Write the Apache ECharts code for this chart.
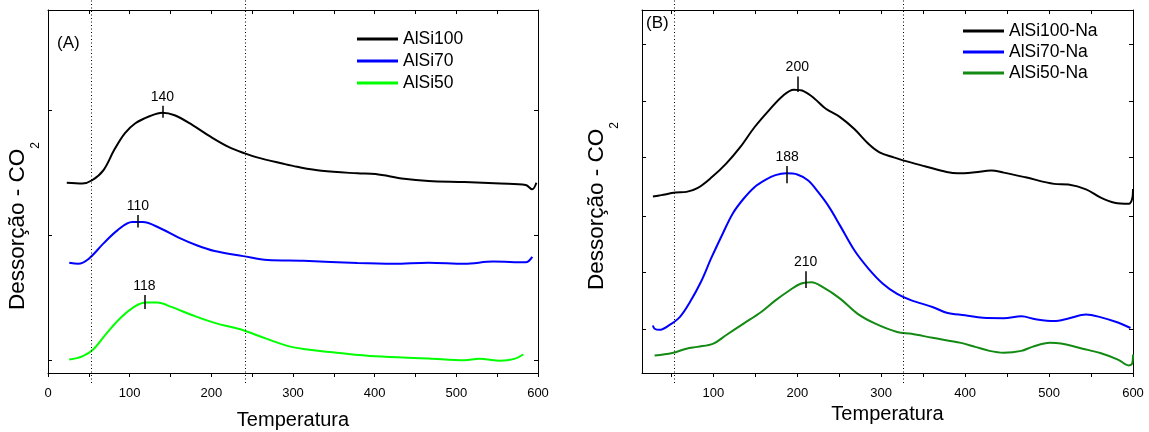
<!DOCTYPE html>
<html><head><meta charset="utf-8">
<script src="https://cdn.jsdelivr.net/npm/echarts@6/dist/echarts.min.js"></script>
<style>html,body{margin:0;padding:0;background:#fff}#c{width:1149px;height:432px}</style>
</head><body><div id="c"></div>
<script>
// ---------- Panel A (temperature, signal in arbitrary units) ----------
const a100_T = [23,42,54,68,81,94,107,125,140,155,177,199,221,241,256,287,305,335,379,401,436,466,510,554,585,593,598];
const a100_S = [52.4,52.2,53.1,55.9,61.4,66,68.8,70.8,71.7,71,68.3,65.1,62.3,60.5,59.4,57.7,56.8,55.7,55,54.8,53.5,52.9,52.6,52.2,51.8,50.6,52.4];
const a70_T = [26,37,50,68,85,103,116,138,160,182,204,239,269,313,379,423,466,510,545,585,593];
const a70_S = [30.4,30.1,31.5,35.7,39.3,41.6,41.6,39.8,37.3,35.2,33.6,32.2,31.1,30.9,30.3,30.1,30.4,30.1,30.7,30.5,32];
const a50_T = [26,42,55,72,90,107,120,134,151,177,204,239,256,291,313,357,401,466,510,528,554,571,582];
const a50_S = [3.7,4.6,6.4,11,15.4,18.4,19.4,19.4,18.2,15.9,13.8,11.8,10.4,7.6,6.6,5.5,4.6,4,3.5,3.9,3.4,3.9,5.1];
const namesA = ['AlSi100','AlSi70','AlSi50'];
const peaksA = [140,110,118];
const peakLoA = [70.3,40.1,17.6];
const peakHiA = [73.6,43.5,21.5];
const dottedA = [53,242];

// ---------- Panel B ----------
const b100_T = [28,38,55,68,81,98,115,132,149,166,183,196,208,221,234,251,268,285,298,315,327,353,378,391,412,431,446,472,506,523,544,561,578,595,599,600];
const b100_S = [48.6,49,49.7,49.9,50.9,53.9,57.6,62.2,67.7,72.3,76.4,78,77.6,75.5,72.8,70.5,67.2,63.1,60.8,59.4,58.5,56.9,55.4,55,55.3,55.8,55.2,53.9,52.1,51.9,50.6,48.4,46.9,46.6,48,50.7];
const b70_T = [28,30,36,47,60,72,85,98,111,123,136,149,162,174,187,200,213,225,238,251,268,285,302,319,336,361,378,400,421,446,467,484,506,523,544,561,582,597];
const b70_S = [13.1,12.2,11.9,13.1,15.4,19.5,25,31.9,38.3,43.9,48,51.2,53.2,54.5,55,54.7,53,49.8,45.7,40.6,33.8,28.7,24.6,21.8,20,18.2,16.6,15.9,15.2,15.1,15.6,14.8,14.3,15,16.1,15.4,13.9,12.4];
const b50_T = [30,51,68,81,100,115,136,157,174,191,204,217,230,251,272,293,319,336,361,395,412,429,446,467,480,501,514,540,561,582,595,599,600];
const b50_S = [4.8,5.5,6.7,7.2,8.1,10.4,13.6,16.8,20,22.8,24.6,25,23.7,20.5,16.3,13.6,11.3,10.8,9.7,8.3,7.2,6.1,5.6,6.1,7.2,8.3,8.1,6.7,5.5,3.7,2.1,2.6,5.1];
const namesB = ['AlSi100-Na','AlSi70-Na','AlSi50-Na'];
const peaksB = [200,188,210];
const peakLoB = [77.4,52.3,23.4];
const peakHiB = [81.7,57,28];
const dottedB = [54,326];

// axis ticks / labels
const xLabelsA = [0,100,200,300,400,500,600];
const xTicks = [0,50,100,150,200,250,300,350,400,450,500,550,600];
const xLabelsB = [100,200,300,400,500,600];
const yTicksA = [3.6,38,72.5];
const yTicksB = [12,27.7,43.3,59.4,75,90.6];

const colorsA = ['#000000','#0000ff','#00ff00'];
const colorsB = ['#000000','#0000ff','#138a13'];
const FONT = 'Liberation Sans, Arial, sans-serif';

const zip = (t, s) => t.map((v, i) => [v, s[i]]);

function xAxesFor(grid, min, labels) {
  const bottom = {
    gridIndex: grid, type: 'value', min: min, max: 600, position: 'bottom',
    axisLine: {show: true, onZero: false, lineStyle: {color: '#000', width: 1}},
    axisTick: {show: true, inside: false, length: 4, customValues: xTicks.filter(v => v >= min), lineStyle: {color: '#000'}},
    axisLabel: {show: true, customValues: labels, fontSize: 13, color: '#000', margin: 14, fontFamily: FONT},
    splitLine: {show: false},
    name: 'Temperatura', nameLocation: 'middle', nameGap: grid === 0 ? 37 : 31,
    nameTextStyle: {fontSize: 20, color: '#000', fontFamily: FONT}
  };
  const top = {
    gridIndex: grid, type: 'value', min: min, max: 600, position: 'top',
    axisLine: {show: true, onZero: false, lineStyle: {color: '#000', width: 1}},
    axisTick: {show: true, inside: true, length: 4, customValues: xTicks.filter(v => v > min && v < 600), lineStyle: {color: '#000'}},
    axisLabel: {show: false}, splitLine: {show: false}
  };
  return [bottom, top];
}
function yAxesFor(grid, ticks) {
  const base = pos => ({
    gridIndex: grid, type: 'value', min: 0, max: 100, position: pos,
    axisLine: {show: true, onZero: false, lineStyle: {color: '#000', width: 1}},
    axisTick: {show: true, inside: true, length: 4, customValues: ticks, lineStyle: {color: '#000'}},
    axisLabel: {show: false}, splitLine: {show: false}
  });
  return [base('left'), base('right')];
}
// hidden overlay axes (taller grids) for the dotted guide lines that run past the frame
function hiddenX(grid, min) { return {gridIndex: grid, type: 'value', min: min, max: 600, show: false}; }
function hiddenY(grid) { return {gridIndex: grid, type: 'value', min: 0, max: 100, show: false}; }

function peakMark(x, lo, hi) {
  return {
    silent: true, animation: false, symbol: ['none','none'],
    lineStyle: {color: '#000', width: 1.5, type: 'solid'},
    label: {show: true, position: 'end', distance: 2, formatter: String(x), fontSize: 14, color: '#000', fontFamily: FONT},
    emphasis: {disabled: true},
    data: [[{coord: [x, lo]}, {coord: [x, hi]}]]
  };
}

function curveSeries(name, data, color, xi, yi, peak, lo, hi) {
  return {
    name: name, type: 'line', data: data, xAxisIndex: xi, yAxisIndex: yi,
    smooth: 0.35, showSymbol: false, symbol: 'none', animation: false,
    lineStyle: {color: color, width: 2}, itemStyle: {color: color},
    markLine: peakMark(peak, lo, hi)
  };
}
function dottedSeries(xs, xi, yi) {
  return {
    type: 'line', data: [], xAxisIndex: xi, yAxisIndex: yi, animation: false, silent: true,
    markLine: {
      silent: true, animation: false, symbol: ['none','none'],
      lineStyle: {color: '#000', width: 1, type: [1, 2.5]},
      label: {show: false}, emphasis: {disabled: true},
      data: xs.map(x => ({xAxis: x}))
    }
  };
}

const seriesA = [zip(a100_T, a100_S), zip(a70_T, a70_S), zip(a50_T, a50_S)];
const seriesB = [zip(b100_T, b100_S), zip(b70_T, b70_S), zip(b50_T, b50_S)];

const series = [];
seriesA.forEach((d, i) => series.push(curveSeries(namesA[i], d, colorsA[i], 0, 0, peaksA[i], peakLoA[i], peakHiA[i])));
seriesB.forEach((d, i) => series.push(curveSeries(namesB[i], d, colorsB[i], 2, 2, peaksB[i], peakLoB[i], peakHiB[i])));
series.push(dottedSeries(dottedA, 4, 4));
series.push(dottedSeries(dottedB, 5, 5));

// y-axis titles with subscript
const ctx = document.createElement('canvas').getContext('2d');
function measure(text, size) { ctx.font = size + 'px ' + FONT; return ctx.measureText(text).width; }
function yTitle(cx, cy) {
  const main = 'Dessorção - CO', sub = '2';
  const mw = measure(main, 22.5), sw = measure(sub, 12), W = mw + sw;
  return {
    type: 'group', x: cx, y: cy, rotation: Math.PI / 2, silent: true,
    children: [
      {type: 'text', x: -W / 2, y: 0, style: {text: main, font: '22.5px ' + FONT, fill: '#000', textAlign: 'left', textVerticalAlign: 'middle'}},
      {type: 'text', x: -W / 2 + mw, y: 18, style: {text: sub, font: '12px ' + FONT, fill: '#000', textAlign: 'left', textVerticalAlign: 'middle'}}
    ]
  };
}

const gridBase = {containLabel: false, outerBoundsMode: 'none'};
const chart = echarts.init(document.getElementById('c'), null, {renderer: 'canvas'});
chart.setOption({
  animation: false,
  backgroundColor: '#fff',
  textStyle: {fontFamily: FONT},
  grid: [
    Object.assign({left: 48, right: 611, top: 10, bottom: 59}, gridBase),
    Object.assign({left: 642, right: 16, top: 10, bottom: 59}, gridBase),
    Object.assign({left: 48, right: 611, top: 0, bottom: 49}, gridBase),
    Object.assign({left: 642, right: 16, top: 0, bottom: 49}, gridBase)
  ],
  xAxis: [...xAxesFor(0, 0, xLabelsA), ...xAxesFor(1, 15, xLabelsB), hiddenX(2, 0), hiddenX(3, 15)],
  yAxis: [...yAxesFor(0, yTicksA), ...yAxesFor(1, yTicksB), hiddenY(2), hiddenY(3)],
  legend: [
    {data: namesA, left: 357, top: 29, padding: 0, orient: 'vertical', icon: 'rect', itemWidth: 41, itemHeight: 3, itemGap: 2,
     selectedMode: false, textStyle: {fontSize: 17.5, lineHeight: 20, color: '#000', fontFamily: FONT}},
    {data: namesB, left: 963, top: 21, padding: 0, orient: 'vertical', icon: 'rect', itemWidth: 41, itemHeight: 3, itemGap: 1,
     selectedMode: false, textStyle: {fontSize: 17.5, lineHeight: 20, color: '#000', fontFamily: FONT}}
  ],
  graphic: [
    {type: 'text', x: 57, y: 43, silent: true, style: {text: '(A)', font: '17px ' + FONT, fill: '#000', textAlign: 'left', textVerticalAlign: 'middle'}},
    {type: 'text', x: 646, y: 23, silent: true, style: {text: '(B)', font: '17px ' + FONT, fill: '#000', textAlign: 'left', textVerticalAlign: 'middle'}},
    yTitle(17.5, 226),
    yTitle(597, 206)
  ],
  series: series
});
</script>
</body></html>
